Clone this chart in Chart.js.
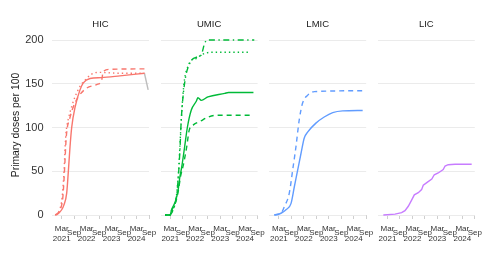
<!DOCTYPE html>
<html><head><meta charset="utf-8">
<script src="https://cdn.jsdelivr.net/npm/chart.js@4"></script>
<style>
html,body{margin:0;padding:0;background:#fff;}
#wrap{position:relative;width:490px;height:257px;overflow:hidden;}
canvas{position:absolute;left:0;top:0;}
</style></head>
<body><div id="wrap">
<canvas id="c0" width="490" height="257"></canvas>
<canvas id="c1" width="490" height="257"></canvas>
<canvas id="c2" width="490" height="257"></canvas>
<canvas id="c3" width="490" height="257"></canvas>
</div>
<script>
// x values: months since Jan 2021 (0 = Jan 2021)
const panels = ["HIC", "UMIC", "LMIC", "LIC"];
const yTicks = [0, 50, 100, 150, 200];
const xTickMonths = [2, 8, 14, 20, 26, 32, 38, 44];
const xTickLabels = [["Mar","2021"],["Sep"],["Mar","2022"],["Sep"],["Mar","2023"],["Sep"],["Mar","2024"],["Sep"]];
const yTitle = "Primary doses per 100";

// HIC
const hicSolidM = [-1.2, 0, 2, 3, 4.4, 5.2, 6, 6.8, 8.5, 10.8, 12.4, 15.6, 21, 30, 41.8];
const hicSolidV = [0, 1, 6, 11, 25, 50, 78, 100, 124, 143, 151, 156, 157, 159, 162];
const hicDashM = [-1, 1.2, 2.5, 3.1, 3.6, 4.1, 4.7, 5.6, 7, 10, 14, 18.8, 21.2, 22, 25.2, 41.8];
const hicDashV = [0, 6, 19, 40, 63, 86, 100, 108, 120, 135, 145, 149, 154, 164, 166.5, 167];
const hicDotM = [-1, 1, 2.2, 3, 3.5, 4, 4.6, 5.2, 6.8, 8.4, 10.8, 13.2, 16.4, 19.6, 30, 41.8];
const hicDotV = [0, 6, 20, 45, 70, 92, 103, 110, 124, 135, 147, 154, 161, 163, 162, 162];
const hicGreyM = [41.8, 43.6];
const hicGreyV = [162, 143];

// UMIC
const umicSolidM = [-0.55, 1.9, 2.6, 4.5, 5.8, 6.5, 7.5, 8.9, 10.2, 12.1, 14.5, 15.3, 16.9, 20.1, 28.2, 30, 42];
const umicSolidV = [0, 0, 6, 16, 29, 42, 55, 78, 100, 120, 130, 134, 131, 135, 139, 140, 140];
const umicDashM = [-0.55, 1.9, 2.6, 4.5, 5.8, 7, 8.25, 9.9, 11.1, 13.1, 16.3, 20.3, 24.3, 42];
const umicDashV = [0, 0, 5, 14, 27, 45, 57, 78, 97, 103, 107, 112, 114, 114];
const umicDotM = [-0.55, 1.9, 3.3, 4.9, 6, 6.6, 7.2, 8, 8.9, 10.5, 11.8, 14.7, 16.9, 21.7, 40.5];
const umicDotV = [0, 0, 6, 21, 51, 78, 105, 135, 156, 170, 176, 179, 183, 186, 186];
const umicDotDashM = [-0.55, 1.9, 3.3, 4.9, 6, 6.7, 7.3, 8.9, 11.3, 15.3, 16.9, 18.5, 19.8, 42.4];
const umicDotDashV = [0, 0, 6, 20, 48, 78, 110, 151, 173, 181, 183, 196, 200, 200];

// LMIC
const lmicSolidM = [-0.2, 3.0, 5.4, 7.8, 9.4, 11, 12.6, 14.2, 15.9, 19.8, 23.8, 27.9, 32.7, 42.3];
const lmicSolidV = [0, 2, 6, 13, 32, 51, 70, 88, 95, 105, 112, 117, 119, 119.5];
const lmicDashM = [-0.2, 3.0, 4.6, 7, 8.6, 10.2, 11.8, 13.4, 15.9, 19, 42.3];
const lmicDashV = [0, 2, 9.5, 25, 51, 78, 109, 128, 137, 141, 142];

// LIC
const licSolidM = [0, 5.6, 8.8, 10.4, 12, 13.6, 14.9, 16.8, 18.4, 19.2, 20.9, 23.3, 24.5, 26.4, 28.8, 29.7, 31.2, 34.5, 42.5];
const licSolidV = [0, 1, 2.7, 5, 10, 17, 23, 25.5, 29, 34, 37, 41, 46, 48, 52, 56, 57.5, 58, 58];

const colors = ["#F8766D", "#00BA38", "#619CFF", "#C77CFF"];
const FONT = '"Liberation Sans", Arial, sans-serif';

function pts(m, v) { return m.map((x, i) => ({x: x, y: v[i]})); }
function ds(m, v, color, dash, smooth) {
  return {data: pts(m, v), borderColor: color, borderWidth: 1.4, borderDash: dash,
    pointRadius: 0, fill: false, clip: 4,
    cubicInterpolationMode: smooth ? 'monotone' : 'default', tension: 0};
}
const DASH = [5, 4], DOT = [1.4, 3], DOTDASH = [1.4, 3.5, 6, 3.5];

const panelData = [
  [ds(hicSolidM, hicSolidV, colors[0], [], true), ds(hicDashM, hicDashV, colors[0], DASH, true),
   ds(hicDotM, hicDotV, colors[0], DOT, true), ds(hicGreyM, hicGreyV, "#bdbdbd", [], false)],
  [ds(umicSolidM, umicSolidV, colors[1], [], true), ds(umicDashM, umicDashV, colors[1], DASH, true),
   ds(umicDotM, umicDotV, colors[1], DOT, true), ds(umicDotDashM, umicDotDashV, colors[1], DOTDASH, true)],
  [ds(lmicSolidM, lmicSolidV, colors[2], [], true), ds(lmicDashM, lmicDashV, colors[2], DASH, true)],
  [ds(licSolidM, licSolidV, colors[3], [], false)]
];

const lefts = [52, 160.6, 269.2, 377.8];
const PW = 97;

const textPlugin = {
  id: 'facetText',
  afterDraw(chart, args, opts) {
    const ctx = chart.ctx;
    const ca = chart.chartArea;
    const xs = chart.scales.x;
    ctx.save();
    ctx.fillStyle = '#1a1a1a';
    ctx.font = '9.5px ' + FONT;
    ctx.textAlign = 'center';
    ctx.textBaseline = 'alphabetic';
    ctx.fillText(opts.title, (ca.left + ca.right) / 2, 26.5);
    ctx.fillStyle = '#333333';
    ctx.font = '8px ' + FONT;
    xTickMonths.forEach((v, i) => {
      const px = xs.getPixelForValue(v);
      const lab = xTickLabels[i];
      if (lab.length === 2) {
        ctx.fillText(lab[0], px, 231.3);
        ctx.fillText(lab[1], px, 240.6);
      } else {
        ctx.fillText(lab[0], px, 235.2);
      }
    });
    if (opts.showYTitle) {
      ctx.fillStyle = '#1a1a1a';
      ctx.font = '10.4px ' + FONT;
      ctx.translate(16, 125);
      ctx.rotate(-Math.PI / 2);
      ctx.textBaseline = 'middle';
      ctx.fillText(yTitle, 0, 0);
    }
    ctx.restore();
  }
};

panels.forEach((name, i) => {
  const L = lefts[i];
  const yw = i === 0 ? L : 0;
  new Chart(document.getElementById('c' + i), {
    type: 'line',
    data: {datasets: panelData[i]},
    plugins: [textPlugin],
    options: {
      responsive: false, animation: false, events: [],
      layout: {padding: {left: L - yw, right: 490 - (L + PW), top: 40, bottom: 42}},
      plugins: {legend: {display: false}, tooltip: {enabled: false},
        facetText: {title: name, showYTitle: i === 0}},
      scales: {
        x: {type: 'linear', min: -2.67, max: 44,
          afterFit(s) { s.height = 0; },
          afterBuildTicks(s) { s.ticks = xTickMonths.map(v => ({value: v})); },
          ticks: {display: false},
          grid: {display: true, drawOnChartArea: false, drawTicks: true, tickLength: 4, color: '#cfcfcf', lineWidth: 1},
          border: {display: false}},
        y: {type: 'linear', min: 0, max: 200,
          afterFit(s) { s.width = yw; },
          afterBuildTicks(s) { s.ticks = yTicks.map(v => ({value: v})); },
          ticks: {display: i === 0, padding: 8.5, color: '#333333', font: {family: FONT, size: 11}},
          grid: {color: '#ebebeb', drawTicks: false, lineWidth: 1},
          border: {display: false}}
      }
    }
  });
});
</script>
</body></html>
